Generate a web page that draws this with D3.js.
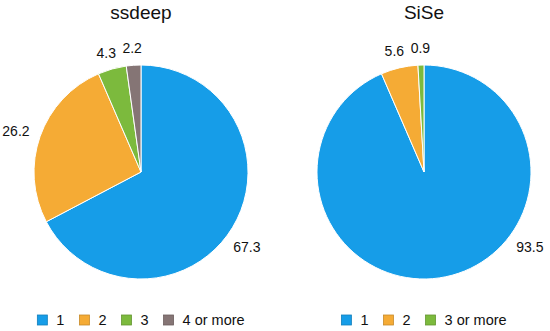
<!DOCTYPE html>
<html>
	<head>
		<meta charset="utf-8">
		<title>ssdeep vs SiSe</title>
		<style>
			body { margin: 0; background: #fff; }
			svg { font-family: "Liberation Sans", Arial, sans-serif; }
		</style>
	</head>
	<body>
		<svg id="viz" width="550" height="331"></svg>

		<script type="text/javascript" src="https://d3js.org/d3.v7.min.js"></script>
		<script type="text/javascript">
			// values (percent)
			var ssdeepCats = ["1", "2", "3", "4 or more"];
			var ssdeepVals = [67.3, 26.2, 4.3, 2.2];
			var siseCats = ["1", "2", "3 or more"];
			var siseVals = [93.5, 5.6, 0.9];
			var colours = ["#169de8", "#f5ab35", "#7cba3d", "#857575"];

			var svg = d3.select("#viz");
			var radius = 107;

			var charts = [
				{ title: "ssdeep", cats: ssdeepCats, vals: ssdeepVals, cx: 141, cy: 172 },
				{ title: "SiSe", cats: siseCats, vals: siseVals, cx: 424, cy: 172 }
			];

			var pie = d3.pie().sort(null);
			var arc = d3.arc().innerRadius(0).outerRadius(radius);

			var drawPie = function(c){
				var g = svg.append("g");

				g.append("text")
					.attr("x", c.cx)
					.attr("y", 19)
					.attr("text-anchor", "middle")
					.style("font-size", "19px")
					.attr("fill", "#111")
					.text(c.title);

				var slices = g.append("g")
					.attr("transform", "translate(" + c.cx + "," + c.cy + ")");

				var arcs = pie(c.vals);

				slices.selectAll(".slice")
					.data(arcs)
					.enter().append("path")
					.attr("class", "slice")
					.attr("d", arc)
					.attr("fill", function(d, i){ return colours[i]; })
					.attr("stroke", "#fff")
					.attr("stroke-width", 1);

				// value labels just outside the rim; the big slice gets its label low on the right
				slices.selectAll(".lbl")
					.data(arcs)
					.enter().append("text")
					.attr("class", "lbl")
					.style("font-size", "14px")
					.attr("fill", "#111")
					.attr("text-anchor", "middle")
					.text(function(d){ return d3.format(".1f")(d.data); })
					.each(function(d){
						var a = (d.startAngle + d.endAngle) / 2;
						if (d.endAngle - d.startAngle > Math.PI) a = 127 * Math.PI / 180;
						var ux = Math.sin(a), uy = -Math.cos(a);
						var w = this.getComputedTextLength(), h = 10;
						var x = (radius + 12) * ux + w / 2 * ux;
						var y = (radius + 12) * uy + h / 2 * uy;
						d3.select(this).attr("x", x).attr("y", y + 5);
					});

				// legend, centred under the pie
				var leg = g.append("g");
				var items = leg.selectAll(".item")
					.data(c.cats)
					.enter().append("g")
					.attr("class", "item");

				items.append("rect")
					.attr("width", 10)
					.attr("height", 10)
					.attr("y", 315)
					.attr("fill", function(d, i){ return colours[i]; })
					.attr("stroke", function(d, i){ return d3.color(colours[i]).darker(0.6); })
					.attr("stroke-width", 0.8);

				items.append("text")
					.attr("x", 19)
					.attr("y", 325)
					.style("font-size", "14.5px")
					.attr("fill", "#111")
					.text(function(d){ return d; });

				var xpos = 0;
				items.each(function(){
					var w = d3.select(this).select("text").node().getComputedTextLength();
					d3.select(this).attr("transform", "translate(" + xpos + ",0)");
					xpos += 19 + w + 15;
				});
				var total = xpos - 15;
				leg.attr("transform", "translate(" + (c.cx - total / 2) + ",0)");
			};

			charts.forEach(drawPie);
		</script>
	</body>
</html>
